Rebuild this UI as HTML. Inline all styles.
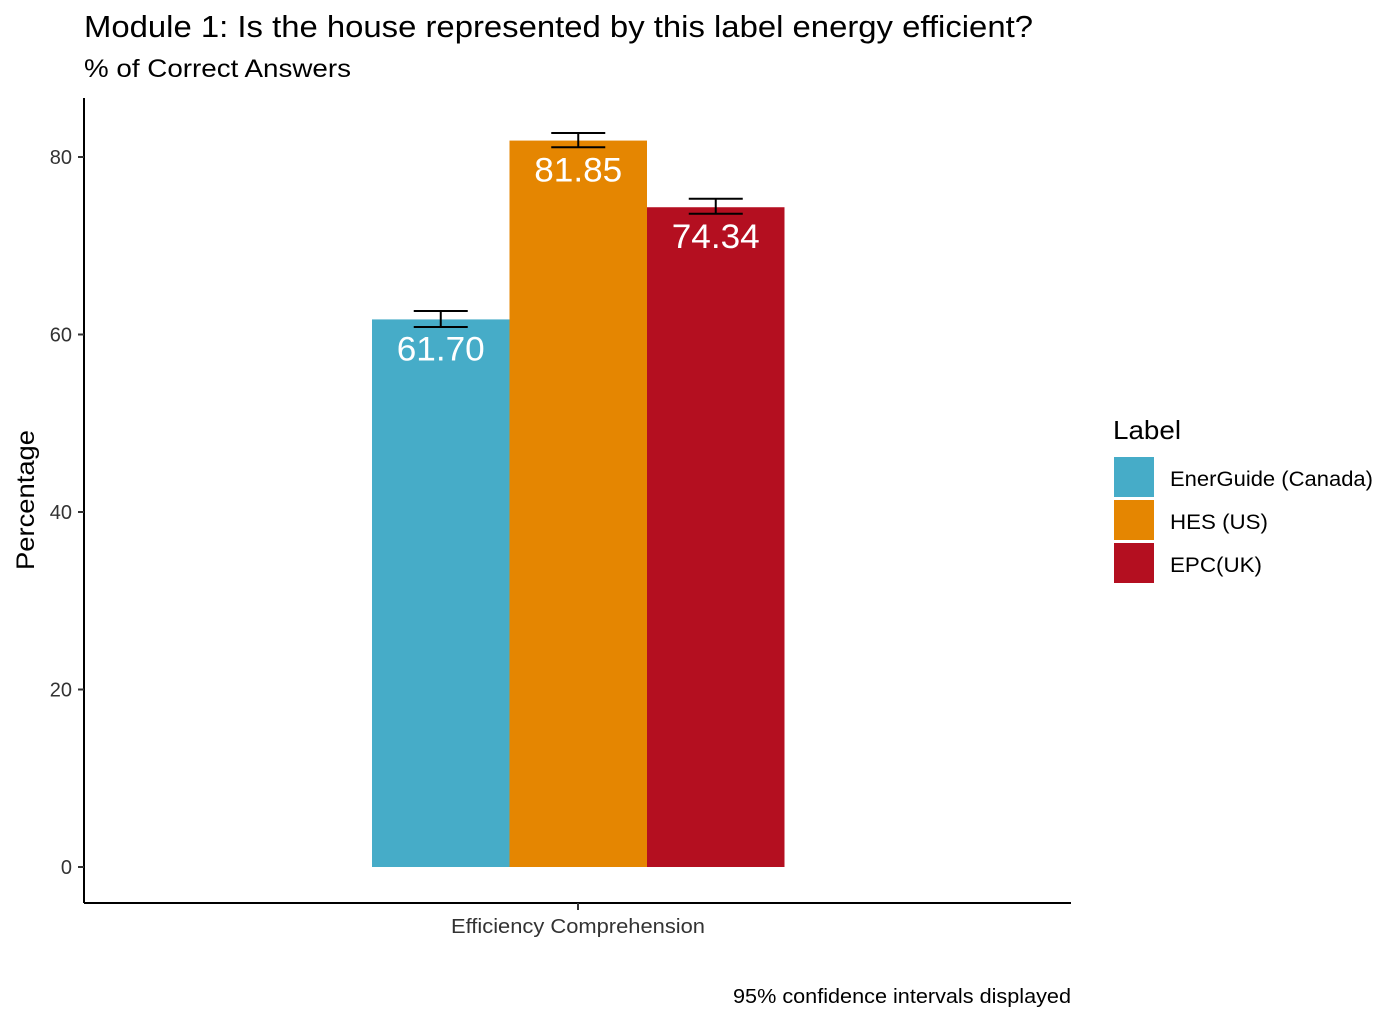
<!DOCTYPE html>
<html><head><meta charset="utf-8"><style>
body{margin:0;background:#fff;}
svg text{font-family:"Liberation Sans",Arial,sans-serif;}
</style></head><body>
<svg width="1400" height="1022" xmlns="http://www.w3.org/2000/svg" id="chart">
<text x="84" y="37" font-size="31" fill="#000" textLength="949" lengthAdjust="spacingAndGlyphs">Module 1: Is the house represented by this label energy efficient?</text>
<text x="84" y="77" font-size="25" fill="#000" textLength="267" lengthAdjust="spacingAndGlyphs">% of Correct Answers</text>
<g id="plot"></g>
<line x1="84" y1="98" x2="84" y2="903" stroke="#000" stroke-width="2"/>
<line x1="84" y1="903" x2="1071" y2="903" stroke="#000" stroke-width="2"/>
<line x1="578" y1="903" x2="578" y2="910" stroke="#333" stroke-width="2"/>
<text x="451" y="933" font-size="20" fill="#333" textLength="254" lengthAdjust="spacingAndGlyphs">Efficiency Comprehension</text>
<text x="34" y="500" font-size="25" fill="#000" text-anchor="middle" textLength="140" lengthAdjust="spacingAndGlyphs" transform="rotate(-90 34 500)">Percentage</text>
<text x="733" y="1003" font-size="20" fill="#000" textLength="338" lengthAdjust="spacingAndGlyphs">95% confidence intervals displayed</text>
<text x="1113" y="439" font-size="26" fill="#000" textLength="68" lengthAdjust="spacingAndGlyphs">Label</text>
<g id="legend"></g>
</svg>
<script>
const categories = ["EnerGuide (Canada)", "HES (US)", "EPC(UK)"];
const values = [61.70, 81.85, 74.34];
const ciLow = [60.85, 81.1, 73.6];
const ciHigh = [62.65, 82.7, 75.3];
const yTicks = [0, 20, 40, 60, 80];
const colors = ["#46ACC8", "#E58601", "#B40F20"];
const NS = "http://www.w3.org/2000/svg";
const y = v => 867 - v * 8.875;
const barX = i => 372 + i * 137.5;
const bw = 137.5;
const plot = document.getElementById('plot');
const svg = document.getElementById('chart');
function mk(tag, attrs, parent){const e=document.createElementNS(NS,tag);for(const k in attrs)e.setAttribute(k,attrs[k]);(parent||plot).appendChild(e);return e;}
yTicks.forEach(t=>{
  const l=mk('line',{x1:78,x2:84,y1:y(t),y2:y(t),stroke:'#333','stroke-width':2},svg);
  
  
  const tx=mk('text',{x:72,y:y(t)+7,'font-size':20,fill:'#333','text-anchor':'end'},svg);
  tx.textContent=t;
  
  
});
values.forEach((v,i)=>{
  const r=mk('rect',{x:barX(i),y:y(v),width:bw,height:y(0)-y(v),fill:colors[i]});
  
  
  const cx=barX(i)+bw/2;
  const g=mk('g',{stroke:'#000','stroke-width':2});
  
  
  mk('line',{x1:cx,x2:cx,y1:y(ciHigh[i]),y2:y(ciLow[i])},g);
  mk('line',{x1:cx-27,x2:cx+27,y1:y(ciHigh[i]),y2:y(ciHigh[i])},g);
  mk('line',{x1:cx-27,x2:cx+27,y1:y(ciLow[i]),y2:y(ciLow[i])},g);
  const t=mk('text',{x:cx,y:y(v)+41,'font-size':34,fill:'#fff','text-anchor':'middle',textLength:88,lengthAdjust:'spacingAndGlyphs'});
  t.textContent=v.toFixed(2);
  
  
});
const legW=[203,98,92];
const leg=document.getElementById('legend');
categories.forEach((c,i)=>{
  const r=mk('rect',{x:1114,y:457+i*43,width:40,height:40,fill:colors[i]},leg);
  
  
  const t=mk('text',{x:1170,y:486+i*43,'font-size':21,fill:'#000',textLength:legW[i],lengthAdjust:'spacingAndGlyphs'},leg);
  t.textContent=c;
  
  
});
</script>
</body></html>
